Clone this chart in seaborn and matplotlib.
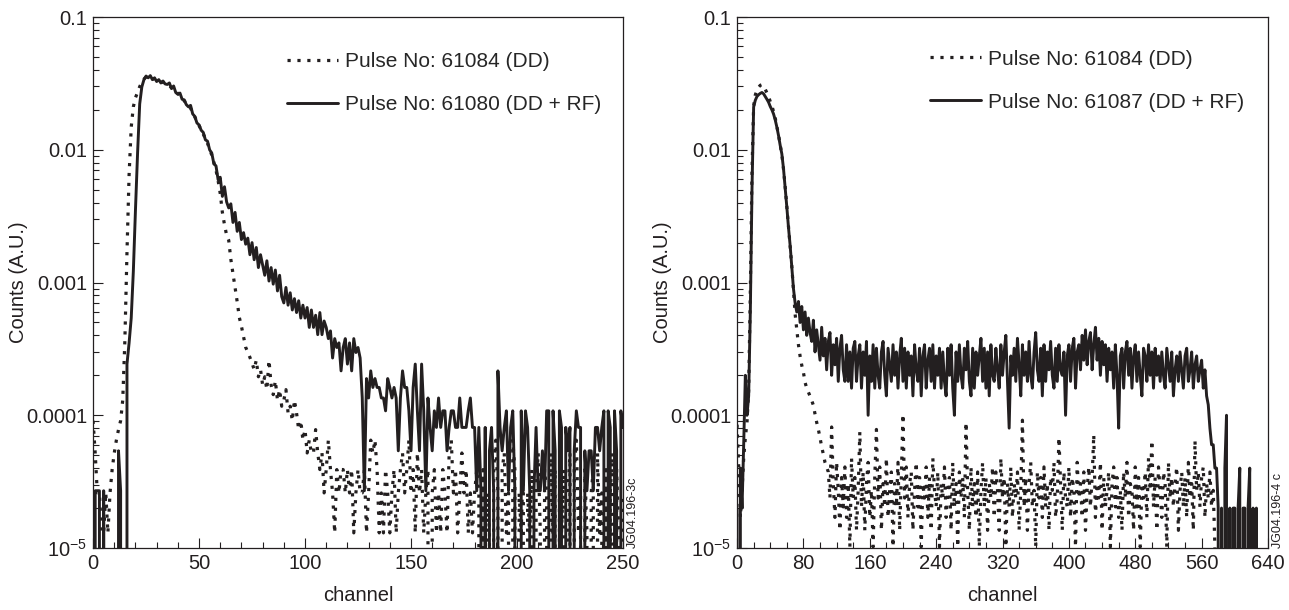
import numpy as np
import pandas as pd
import seaborn as sns
import matplotlib
matplotlib.use("Agg")
import matplotlib.pyplot as plt
from matplotlib.ticker import FixedLocator, FixedFormatter, MultipleLocator, LogLocator, NullFormatter

sns.set_theme(style="ticks")
plt.rcParams["font.family"] = ["Liberation Sans", "DejaVu Sans"]
plt.rcParams["mathtext.fontset"] = "custom"
plt.rcParams["mathtext.rm"] = "Liberation Sans"
plt.rcParams["mathtext.it"] = "Liberation Sans:italic"

INK = "#231f20"

# ---- left panel: channels 0..250, raw counts per channel ----
left_channel = np.arange(0, 251)
left_dd_per_count = 1.3e-5     # pulse 61084 (DD)
left_rf_per_count = 2.7e-5     # pulse 61080 (DD + RF)

left_dd_counts = [
    7, 4, 2, 2, 1, 1, 2, 1, 2, 3,
    4, 5, 6, 7, 10, 28, 130, 500, 1140, 1620,
    1900, 2080, 2300, 2480, 2620, 2720, 2760, 2700, 2640, 2620,
    2580, 2540, 2500, 2480, 2420, 2360, 2330, 2260, 2240, 2120,
    2040, 1980, 1880, 1800, 1720, 1640, 1580, 1470, 1360, 1260,
    1170, 1090, 1010, 930, 860, 780, 700, 620, 540, 450,
    360, 260, 210, 175, 160, 115, 90, 70, 55, 42,
    36, 30, 25, 23, 21, 19, 17, 20, 15, 17,
    13, 15, 12, 20, 13, 11, 14, 10, 12, 9,
    10, 12, 8, 9, 7, 10, 8, 6, 7, 5,
    6, 4, 5, 4, 4, 6, 4, 3, 4, 2,
    3, 5, 3, 2, 1, 3, 2, 3, 3, 2,
    3, 2, 3, 1, 2, 3, 2, 2, 3, 1,
    2, 5, 4, 5, 3, 1, 2, 1, 3, 2,
    1, 2, 3, 1, 2, 3, 4, 2, 3, 5,
    2, 3, 1, 4, 2, 3, 1, 2, 3, 0,
    2, 3, 1, 2, 1, 3, 2, 1, 4, 5,
    2, 3, 1, 2, 4, 2, 3, 1, 2, 1,
    2, 3, 2, 0, 3, 0, 2, 1, 0, 3,
    5, 2, 0, 3, 4, 1, 2, 0, 5, 3,
    0, 2, 1, 4, 0, 2, 1, 3, 0, 2,
    4, 1, 0, 3, 2, 0, 4, 1, 3, 0,
    2, 1, 3, 0, 2, 4, 0, 3, 5, 1,
    2, 0, 3, 1, 0, 2, 3, 0, 4, 1,
    2, 0, 3, 0, 2, 4, 0, 3, 1, 0,
    2,
]

left_rf_counts = [
    0, 1, 1, 1, 0, 1, 0, 0, 0, 0,
    0, 0, 2, 1, 0, 0, 9, 13, 20, 45,
    130, 350, 820, 1100, 1250, 1330, 1290, 1340, 1250, 1290,
    1210, 1250, 1180, 1220, 1160, 1150, 1180, 1070, 1120, 1000,
    970, 990, 890, 880, 810, 780, 800, 690, 660, 590,
    570, 520, 500, 440, 430, 370, 350, 290, 280, 220,
    230, 165, 195, 150, 135, 145, 105, 125, 90, 105,
    78, 88, 72, 80, 60, 74, 55, 68, 48, 60,
    50, 42, 54, 38, 48, 36, 46, 32, 42, 29,
    26, 34, 25, 31, 23, 28, 22, 27, 20, 25,
    20, 24, 17, 23, 17, 21, 15, 22, 15, 19,
    17, 14, 16, 10, 14, 12, 13, 8, 12, 14,
    9, 13, 8, 14, 11, 12, 10, 5, 1, 7,
    5, 8, 6, 7, 6, 6, 5, 5, 4, 7,
    6, 5, 6, 5, 2, 5, 8, 6, 6, 4,
    2, 6, 9, 4, 2, 9, 4, 1, 5, 3,
    2, 4, 3, 5, 3, 4, 4, 2, 3, 4,
    4, 3, 3, 5, 3, 3, 3, 4, 5, 3,
    3, 1, 3, 1, 0, 3, 0, 2, 3, 1,
    0, 8, 3, 2, 3, 4, 1, 3, 4, 1,
    0, 0, 4, 1, 4, 3, 1, 0, 1, 3,
    1, 1, 2, 1, 4, 4, 0, 4, 2, 0,
    4, 3, 0, 3, 2, 3, 0, 2, 4, 3,
    3, 0, 2, 1, 2, 2, 1, 3, 3, 2,
    3, 4, 0, 4, 3, 0, 4, 2, 0, 4,
    3,
]

# ---- right panel: channels 0..640 (every 2nd channel) ----
right_channel = np.arange(0, 641, 2)
right_dd_per_count = 3.4e-6    # pulse 61084 (DD)
right_rf_per_count = 2.0e-5    # pulse 61087 (DD + RF)

right_dd_counts = [
    25, 12, 5, 8, 14, 20, 26, 45, 250, 2000,
    6300, 7600, 8300, 8700, 9000, 9100, 8900, 8400, 7900, 7400,
    6800, 6300, 5700, 5100, 4400, 3800, 3200, 2700, 2100, 1550,
    1100, 780, 560, 390, 260, 170, 130, 100, 82, 70,
    62, 52, 47, 44, 41, 38, 35, 30, 26, 23,
    20, 17, 15, 13, 12,
    11, 7, 24, 9, 5, 13, 8, 4, 10, 6,
    12, 5, 9, 3, 14, 7, 10, 4, 8, 22,
    6, 11, 4, 9, 13, 5, 8, 3, 10, 23,
    7, 12, 4, 9, 6, 14, 5, 8, 11, 3,
    9, 6, 13, 4, 10, 30, 7, 12, 5, 9,
    11, 4, 8, 13, 6, 10, 3, 9, 7, 12,
    5, 10, 4, 14, 8, 6, 11, 3, 9, 7,
    12, 5, 8, 10, 4, 13, 6, 9, 3, 11,
    7, 10, 5, 26, 8, 4, 12, 6, 9, 5,
    11, 3, 8, 13, 6, 10, 4, 9, 7, 12,
    5, 11, 8, 4, 14, 7, 10, 3, 9, 6,
    12, 5, 9, 7, 11, 4, 8, 27, 6, 10,
    4, 9, 13, 6, 8, 3, 11, 7, 10, 5,
    12, 6, 9, 4, 10, 8, 13, 5, 7, 20,
    9, 4, 11, 7, 6, 12, 5, 10, 8, 3,
    13, 7, 9, 5, 11, 4, 8, 12, 6, 10,
    21, 5, 9, 7, 13, 4, 10, 6, 8, 11,
    3, 9, 12, 6, 10, 5, 8, 4, 11, 7,
    13, 5, 9, 8, 4, 12, 6, 10, 3, 9,
    7, 11, 5, 14, 8, 19, 6, 10, 4, 12,
    8, 5, 11, 9, 3, 13, 7, 10, 6, 9,
    12, 4, 8, 11, 6, 10, 5, 13, 7, 9,
    4, 19, 8, 11, 6, 10, 12, 5, 9, 7,
    11, 6, 8,
    3, 0, 2, 0, 0, 1, 0, 0, 0, 0,
    0, 0, 0, 0, 0, 0, 0, 0, 0, 0,
    0, 0, 0, 0, 0, 0, 0, 0, 0, 0,
    0, 0, 0,
]

right_rf_counts = [
    1, 0, 2, 1, 3, 10, 5, 7, 30, 250,
    1050, 1180, 1260, 1300, 1330, 1350, 1320, 1260, 1200, 1140,
    1060, 1000, 930, 840, 740, 640, 540, 465, 360, 260,
    185, 130, 95, 65, 45, 35,
    30, 36, 25, 33, 22, 30, 20, 27, 21, 18,
    26, 15, 22, 17, 13, 23, 14, 19, 11, 18,
    21, 10, 17, 12, 19, 9, 16, 20, 11, 9,
    17, 9, 15, 8, 16, 18, 9, 14, 17, 8,
    15, 10, 18, 5, 14, 9, 17, 8, 16, 10,
    8, 15, 18, 10, 7, 16, 12, 9, 17, 10,
    15, 8, 14, 19, 9, 16, 8, 15, 10, 14,
    7, 17, 11, 9, 16, 7, 14, 17, 8, 13,
    16, 9, 17, 8, 14, 10, 16, 8, 15, 9,
    7, 16, 10, 17, 8, 5, 15, 9, 17, 10,
    8, 16, 11, 18, 9, 7, 16, 8, 15, 10,
    14, 19, 9, 16, 8, 15, 7, 17, 10, 9,
    16, 11, 8, 17, 10, 15, 20, 9, 4, 14,
    10, 16, 9, 19, 12, 7, 17, 10, 15, 9,
    18, 10, 8, 15, 21, 11, 9, 16, 7, 17,
    9, 15, 11, 18, 10, 8, 16, 9, 17, 11,
    10, 15, 5, 14, 17, 9, 16, 19, 8, 15,
    17, 11, 20, 13, 22, 12, 18, 21, 11, 17,
    23, 13, 19, 10, 18, 12, 17, 9, 16, 11,
    15, 8, 17, 10, 4, 14, 16, 8, 15, 18,
    10, 16, 8, 14, 17, 9, 15, 10, 7, 16,
    14, 9, 17, 10, 15, 8, 16, 10, 14, 9,
    15, 10, 8, 16, 12, 9, 15, 7, 11, 14,
    9, 15, 11, 8, 14, 16, 9, 11, 15, 8,
    12, 14, 9, 11, 13, 8, 11, 7, 6, 4,
    3, 3, 2, 2, 1, 0, 1, 0, 2, 5,
    0, 1, 0, 1, 1, 0, 1, 2, 0, 1,
    1, 0, 1, 2, 0, 1, 0, 1, 0, 0,
    0, 0, 0, 0, 0,
]

left_labels = ["Pulse No: 61084 (DD)", "Pulse No: 61080 (DD + RF)"]
right_labels = ["Pulse No: 61084 (DD)", "Pulse No: 61087 (DD + RF)"]

left_df = pd.DataFrame({
    "channel": left_channel,
    "dd": np.array(left_dd_counts) * left_dd_per_count,
    "rf": np.array(left_rf_counts) * left_rf_per_count,
})
right_df = pd.DataFrame({
    "channel": right_channel,
    "dd": np.array(right_dd_counts) * right_dd_per_count,
    "rf": np.array(right_rf_counts) * right_rf_per_count,
})

fig = plt.figure(figsize=(12.89, 6.10), dpi=100)
ax1 = fig.add_axes([0.0722, 0.1016, 0.4111, 0.8705])
ax2 = fig.add_axes([0.5718, 0.1016, 0.4119, 0.8705])

dot_style = (0, (1, 2.1))


def draw_panel(ax, df, labels, xmax, xmajor, xminor, legend_anchor, stamp):
    sns.lineplot(data=df, x="channel", y="dd", ax=ax, color=INK, lw=2.3,
                 linestyle=dot_style, dash_capstyle="butt",
                 estimator=None, errorbar=None, label=labels[0])
    sns.lineplot(data=df, x="channel", y="rf", ax=ax, color=INK, lw=2.1,
                 estimator=None, errorbar=None, label=labels[1])
    ax.set_yscale("log", nonpositive="clip")
    ax.set_ylim(1e-5, 0.1)
    ax.set_xlim(0, xmax)

    ax.yaxis.set_major_locator(FixedLocator([1e-5, 1e-4, 1e-3, 1e-2, 1e-1]))
    ax.yaxis.set_major_formatter(FixedFormatter([r"$10^{-5}$", "0.0001", "0.001", "0.01", "0.1"]))
    ax.yaxis.set_minor_locator(LogLocator(base=10, subs=np.arange(2, 10)))
    ax.yaxis.set_minor_formatter(NullFormatter())
    ax.xaxis.set_major_locator(MultipleLocator(xmajor))
    ax.xaxis.set_minor_locator(MultipleLocator(xminor))

    ax.tick_params(which="both", direction="in", top=False, right=False,
                   labelsize=14.5, colors=INK, width=0.8, pad=4)
    ax.tick_params(which="major", length=7)
    ax.tick_params(which="minor", length=4)
    for side in ["left", "right", "top", "bottom"]:
        ax.spines[side].set_visible(True)
        ax.spines[side].set_linewidth(0.9)
        ax.spines[side].set_color(INK)

    ax.set_xlabel("channel", fontsize=14.5, color=INK, labelpad=10)
    ax.set_ylabel("Counts (A.U.)", fontsize=14.5, color=INK, labelpad=-1)

    ax.legend(loc="upper left", bbox_to_anchor=legend_anchor, frameon=False,
              fontsize=15, handlelength=2.45, handletextpad=0.35,
              labelspacing=1.15, borderpad=0, borderaxespad=0)
    ax.text(1.008, 0.0, stamp, transform=ax.transAxes, rotation=90,
            fontsize=9, color=INK, ha="left", va="bottom")


draw_panel(ax1, left_df, left_labels, 250, 50, 10, (0.366, 0.934), "JG04.196-3c")
draw_panel(ax2, right_df, right_labels, 640, 80, 20, (0.3635, 0.9385), "JG04.196-4 c")

fig.savefig("out.png", dpi=100)
